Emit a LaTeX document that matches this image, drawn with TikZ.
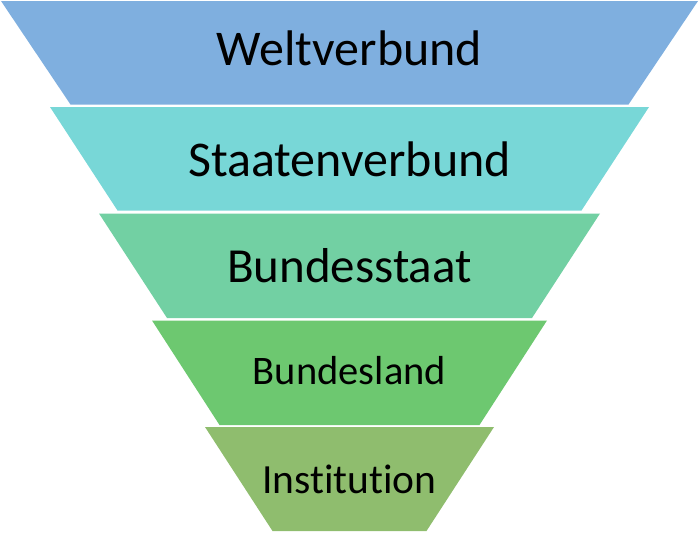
\documentclass[tikz,border=0pt]{standalone}
\usepackage{fontspec}
\setmainfont{Carlito}[Ligatures=NoCommon]
\usepackage{xcolor}
\definecolor{weltblue}{HTML}{7FAFDF}
\definecolor{staatcyan}{HTML}{78D7D7}
\definecolor{bundmint}{HTML}{72D0A3}
\definecolor{landgreen}{HTML}{6DC870}
\definecolor{instolive}{HTML}{8FBD6E}

\begin{document}
\begin{tikzpicture}[x=1pt,y=-1pt,lbl/.style={anchor=base,inner sep=0pt}]
\useasboundingbox (0,0) rectangle (700,533);
% funnel layers
\fill[weltblue] (1,1) -- (698,1) -- (628.5,104.5) -- (70.5,104.5) -- cycle;
\fill[staatcyan] (50,107) -- (649,107) -- (581.5,210.5) -- (117.5,210.5) -- cycle;
\fill[bundmint] (99,213.5) -- (600,213.5) -- (532,318) -- (167,318) -- cycle;
\fill[landgreen] (152,320.5) -- (547,320.5) -- (479.5,425) -- (219.5,425) -- cycle;
\fill[instolive] (205,427) -- (494,427) -- (426.5,531) -- (272.5,531) -- cycle;
% labels
\node[lbl,font=\fontsize{50}{60}\selectfont] (welt) at (349.5,65) {Weltverbund};
\node[lbl,font=\fontsize{50}{60}\selectfont] (staaten) at (349.5,176) {Staatenverbund};
\node[lbl,font=\fontsize{49}{60}\selectfont] (bstaat) at (349.5,282) {Bundesstaat};
\node[lbl,font=\fontsize{40.5}{48}\selectfont] (bland) at (349.5,384) {Bundesland};
\node[lbl,font=\fontsize{41.5}{50}\selectfont] (inst) at (349.5,493) {Institution};
\end{tikzpicture}
\end{document}
